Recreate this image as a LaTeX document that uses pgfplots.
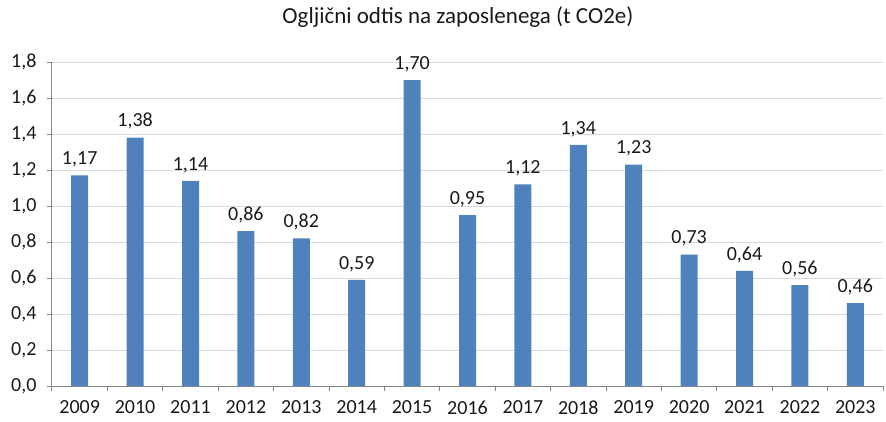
\documentclass[border=0pt]{standalone}
\usepackage{fontspec}
\setmainfont{Carlito}
\usepackage{pgfplots}
\pgfplotsset{compat=1.18}
\definecolor{barblue}{HTML}{4F81BD}
\definecolor{gridc}{HTML}{D9D9D9}
\definecolor{axisc}{HTML}{868686}
\begin{document}
\begin{tikzpicture}
\path[use as bounding box] (-52pt,-35pt) rectangle (834pt,386pt);
\begin{axis}[
  at={(0pt,0pt)}, anchor=south west,
  scale only axis, width=831pt, height=324pt,
  ybar, bar width=17pt,
  xmin=-0.5, xmax=14.5, ymin=0, ymax=1.8,
  xtick={0,1,2,3,4,5,6,7,8,9,10,11,12,13,14},
  xticklabels={2009,2010,2011,2012,2013,2014,2015,2016,2017,2018,2019,2020,2021,2022,2023},
  minor xtick={-0.5,0.5,1.5,2.5,3.5,4.5,5.5,6.5,7.5,8.5,9.5,10.5,11.5,12.5,13.5,14.5},
  ytick={0,0.2,0.4,0.6,0.8,1.0,1.2,1.4,1.6,1.8},
  ymajorgrids, major grid style={gridc, line width=1pt},
  axis x line*=bottom, axis y line*=left,
  axis line style={axisc, line width=1pt},
  tick style={axisc, line width=1pt},
  tick align=outside,
  major tick length=5pt, minor tick length=5pt,
  major x tick style={draw=none},
  /pgf/number format/assume math mode=true,
  yticklabel style={/pgf/number format/use comma, /pgf/number format/fixed, /pgf/number format/fixed zerofill, /pgf/number format/precision=1},
  scaled y ticks=false,
  ticklabel style={font=\fontsize{20}{22}\selectfont, text=black!90},
  yticklabel style={xshift=-7pt},
  xticklabel style={yshift=-6pt},
  nodes near coords={\pgfmathprintnumber[use comma,fixed,fixed zerofill,precision=2]{\pgfplotspointmeta}},
  every node near coord/.append style={font=\fontsize{20}{22}\selectfont, text=black!90, inner sep=0pt, yshift=8pt},
  clip=false,
  title={Ogljični odtis na zaposlenega (t CO2e)},
  title style={font=\fontsize{23}{25}\selectfont, text=black!90, at={(0.4885,1.12)}, anchor=center},
]
\addplot[fill=barblue, draw=none] coordinates {
(0,1.17) (1,1.38) (2,1.14) (3,0.86) (4,0.82) (5,0.59) (6,1.70) (7,0.95)
(8,1.12) (9,1.34) (10,1.23) (11,0.73) (12,0.64) (13,0.56) (14,0.46)};
\end{axis}
\end{tikzpicture}
\end{document}
